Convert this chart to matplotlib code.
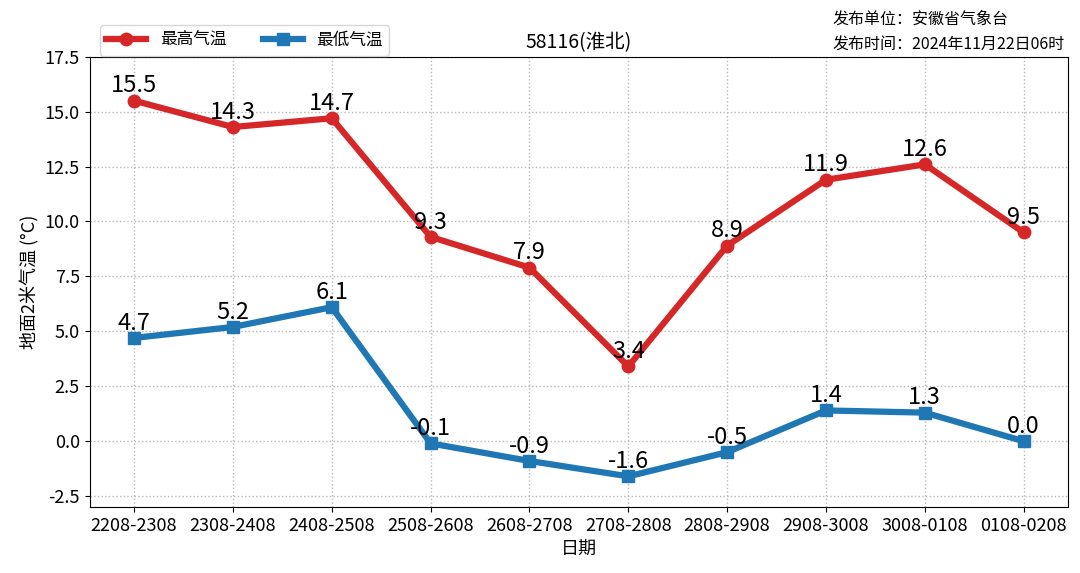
import matplotlib
matplotlib.use("Agg")
import matplotlib.pyplot as plt

plt.rcParams['font.family'] = ['Noto Sans CJK SC', 'DejaVu Sans']
plt.rcParams['axes.unicode_minus'] = False

# data
dates = ["2208-2308", "2308-2408", "2408-2508", "2508-2608", "2608-2708",
         "2708-2808", "2808-2908", "2908-3008", "3008-0108", "0108-0208"]
t_max = [15.5, 14.3, 14.7, 9.3, 7.9, 3.4, 8.9, 11.9, 12.6, 9.5]
t_min = [4.7, 5.2, 6.1, -0.1, -0.9, -1.6, -0.5, 1.4, 1.3, 0.0]

fig = plt.figure(figsize=(10.8, 5.73), dpi=100)
ax = fig.add_axes([0.083, 0.115, 0.906, 0.786])

x = list(range(len(dates)))
ax.plot(x, t_max, color="#d62728", lw=4.5, marker="o", ms=9, label="最高气温")
ax.plot(x, t_min, color="#1f77b4", lw=4.5, marker="s", ms=9, label="最低气温")

for xi, v in zip(x, t_max):
    ax.text(xi, v + 0.15, f"{v:.1f}", ha="center", va="bottom", fontsize=17)
for xi, v in zip(x, t_min):
    ax.text(xi, v + 0.15, f"{v:.1f}", ha="center", va="bottom", fontsize=17)

yticks = [-2.5, 0, 2.5, 5, 7.5, 10, 12.5, 15, 17.5]
ax.set_xticks(x)
ax.set_xticklabels(dates, fontsize=13)
ax.set_ylim(-3, 17.5)
ax.set_yticks(yticks)
ax.set_yticklabels([f"{v:.1f}" for v in yticks], fontsize=13)
ax.grid(True, linestyle=":", color="#b8b8b8", lw=1)
ax.set_xlabel("日期", fontsize=13)
ax.set_ylabel("地面2米气温 (°C)", fontsize=13)
ax.set_title("58116(淮北)", fontsize=14)

ax.legend(loc="lower left", bbox_to_anchor=(0.007, 0.995), ncol=2, fontsize=12,
          frameon=True, borderaxespad=0.2, columnspacing=2.2, handlelength=2.4)

fig.text(0.771, 0.958, "发布单位：安徽省气象台", fontsize=11.5)
fig.text(0.771, 0.915, "发布时间：2024年11月22日06时", fontsize=11.5)

fig.savefig("out.png", dpi=100)
